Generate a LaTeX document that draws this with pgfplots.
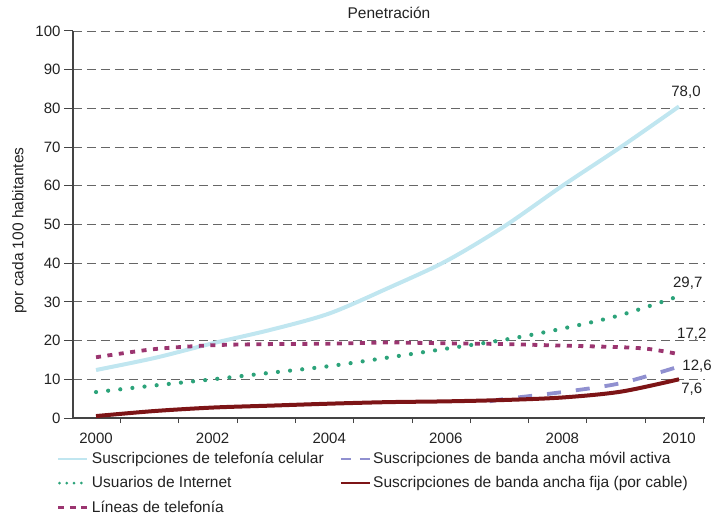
\documentclass[border=0pt]{standalone}
\usepackage{pgfplots}
\pgfplotsset{compat=1.18}
\usepackage{fontspec}
\setmainfont{Liberation Sans}
\definecolor{cel}{HTML}{C0E6F0}
\definecolor{inet}{HTML}{2CA37A}
\definecolor{lin}{HTML}{9B3570}
\definecolor{mov}{HTML}{9090D0}
\definecolor{fija}{HTML}{7D1416}
\definecolor{gridc}{HTML}{666666}
\definecolor{axc}{HTML}{444444}
\definecolor{txt}{HTML}{222222}
\begin{document}
\begin{tikzpicture}
\begin{axis}[
  name=ax,
  at={(0,0)}, anchor=south west,
  scale only axis, width=632pt, height=387pt,
  xmin=1999.605, xmax=2010.446, ymin=0, ymax=100,
  axis x line=bottom, axis y line=left,
  axis line style={draw=axc, line width=1.1pt, -},
  xtick={2000,2002,2004,2006,2008,2010},
  minor xtick={2000.42,2001.42,2002.42,2003.42,2004.42,2005.42,2006.42,2007.42,2008.42,2009.42,2010.42},
  xtick style={draw=none},
  minor x tick style={draw=axc, line width=1pt},
  minor tick length=5pt,
  ytick={0,10,...,100},
  y tick style={draw=axc, line width=1pt},
  major tick length=9pt,
  tick align=outside,
  ymajorgrids,
  major grid style={draw=gridc, dash pattern=on 9pt off 5pt, line width=0.9pt},
  /pgf/number format/1000 sep={},
  /pgf/number format/assume math mode=true,
  tick label style={font=\fontsize{15}{18}\selectfont, text=txt},
  xticklabel style={yshift=-2pt},
  ylabel={por cada 100 habitantes},
  ylabel style={font=\fontsize{15.5}{18}\selectfont, text=txt, yshift=2pt, xshift=-6pt},
  clip=false,
  legend columns=2,
  legend cell align=left,
  legend style={draw=none, fill=none, at={(-0.0253,-0.083)}, anchor=north west,
    font=\fontsize{15.5}{18}\selectfont, text=txt,
    /tikz/every even column/.append style={column sep=14pt},
    row sep=7.5pt, inner sep=0pt},
]
\addplot[cel, line width=4pt, smooth, forget plot] coordinates {
(2000,12.4) (2001,15.5) (2002,19.3) (2003,22.8) (2004,27.0) (2005,33.5)
(2006,40.5) (2007,49.5) (2008,60) (2009,70) (2010,80.5)};
\addplot[lin, line width=3.8pt, dash pattern=on 5pt off 6.5pt, smooth, forget plot] coordinates {
(2000,15.7) (2001,17.8) (2002,18.8) (2003,19.1) (2004,19.2) (2005,19.5)
(2006,19.3) (2007,19.1) (2008,18.7) (2009,18.3) (2009.5,17.8) (2010,16.5)};
\addplot[inet, line width=4.2pt, line cap=round, dash pattern=on 0pt off 12.2pt, smooth, forget plot] coordinates {
(2000,6.7) (2001,8.4) (2002,10.0) (2003,11.7) (2004,13.4) (2005,15.6)
(2006,17.9) (2007,20.2) (2008,23.1) (2009,26.6) (2010,31.5)};
\addplot[mov, line width=3.8pt, dash pattern=on 14pt off 15pt, smooth, forget plot] coordinates {
(2006.75,4.3) (2007,4.9) (2008,6.7) (2009,9.0) (2010,13.3)};
\addplot[fija, line width=4pt, smooth, tension=0.5, forget plot] coordinates {
(2000,0.5) (2001,1.8) (2002,2.7) (2003,3.2) (2004,3.7) (2005,4.1)
(2006,4.3) (2007,4.65) (2008,5.3) (2009,6.8) (2010,10.0)};

\addlegendimage{legend image code/.code={\draw[cel, line width=2.5pt] (0pt,0pt) -- (29pt,0pt);}}
\addlegendentry{Suscripciones de telefonía celular}
\addlegendimage{legend image code/.code={\draw[mov, line width=2.5pt, dash pattern=on 10pt off 9pt] (0pt,0pt) -- (29pt,0pt);}}
\addlegendentry{Suscripciones de banda ancha móvil activa}
\addlegendimage{legend image code/.code={\draw[inet, line width=3pt, line cap=round, dash pattern=on 0pt off 7.3pt] (1pt,0pt) -- (30pt,0pt);}}
\addlegendentry{Usuarios de Internet}
\addlegendimage{legend image code/.code={\draw[fija, line width=2.5pt] (0pt,0pt) -- (29pt,0pt);}}
\addlegendentry{Suscripciones de banda ancha fija (por cable)}
\addlegendimage{legend image code/.code={\draw[lin, line width=2.5pt, dash pattern=on 6pt off 5.5pt] (0pt,0pt) -- (29pt,0pt);}}
\addlegendentry{Líneas de telefonía}

\node[font=\fontsize{15}{18}\selectfont, text=txt] at (axis cs:2010.12,84.2) {78,0};
\node[font=\fontsize{15}{18}\selectfont, text=txt] at (axis cs:2010.15,34.9) {29,7};
\node[font=\fontsize{15}{18}\selectfont, text=txt] at (axis cs:2010.22,21.7) {17,2};
\node[font=\fontsize{15}{18}\selectfont, text=txt] at (axis cs:2010.31,13.4) {12,6};
\node[font=\fontsize{15}{18}\selectfont, text=txt] at (axis cs:2010.22,7.5) {7,6};
\node[font=\fontsize{15.5}{18}\selectfont, text=txt, anchor=base] at (rel axis cs:0.5,1) [yshift=12.5pt] {Penetración};
\end{axis}
\pgfresetboundingbox
\path[use as bounding box] ([xshift=-73pt,yshift=-99pt]ax.south west) rectangle ([xshift=9pt,yshift=31pt]ax.north east);
\end{tikzpicture}
\end{document}
